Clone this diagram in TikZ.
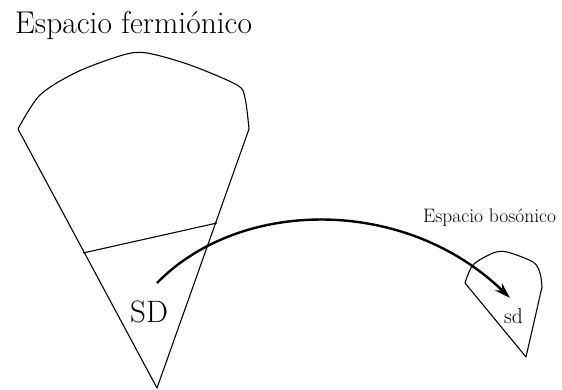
\documentclass[tikz,border=0pt]{standalone}
\usepackage{fontspec}
\usetikzlibrary{arrows.meta}
\begin{document}
\begin{tikzpicture}[x=1pt,y=-1pt,
  thinline/.style={line width=1.1pt,line join=round},
  mapline/.style={line width=2.4pt,-{Stealth[length=16pt,width=10pt]}},
  lbl/.style={inner sep=0pt,anchor=base west}]
\useasboundingbox (0,0) rectangle (562,389);
% big region (fermionic space)
\draw[thinline] plot[smooth,tension=0.5] coordinates {(18,129) (40,95) (77,72) (123,55) (147,53) (190,65) (237,85) (245,98) (249,129)}
  -- (157,388) -- cycle;
\draw[thinline] (83,253) -- (217,223);
% small region (bosonic space)
\draw[thinline] plot[smooth,tension=0.5] coordinates {(465,283) (473,265) (493,253) (507,252) (533,262) (540,273) (542,287)}
  -- (526,357) -- cycle;
% labels
\node[lbl,font=\fontsize{31.5}{37}\selectfont] (title) at (15,33) {Espacio fermiónico};
\node[lbl,font=\fontsize{19.5}{23}\selectfont] (bos) at (423,222) {Espacio bosónico};
\node[lbl,font=\fontsize{31}{37}\selectfont] (SD) at (130,322) {SD};
\node[lbl,font=\fontsize{21.5}{26}\selectfont] (sd) at (504,323) {sd};
% map arrow
\coordinate (a) at (157,283);
\coordinate (b) at (510,298);
\draw[mapline] (a) .. controls (240,198) and (405,196) .. (b);
\end{tikzpicture}
\end{document}
